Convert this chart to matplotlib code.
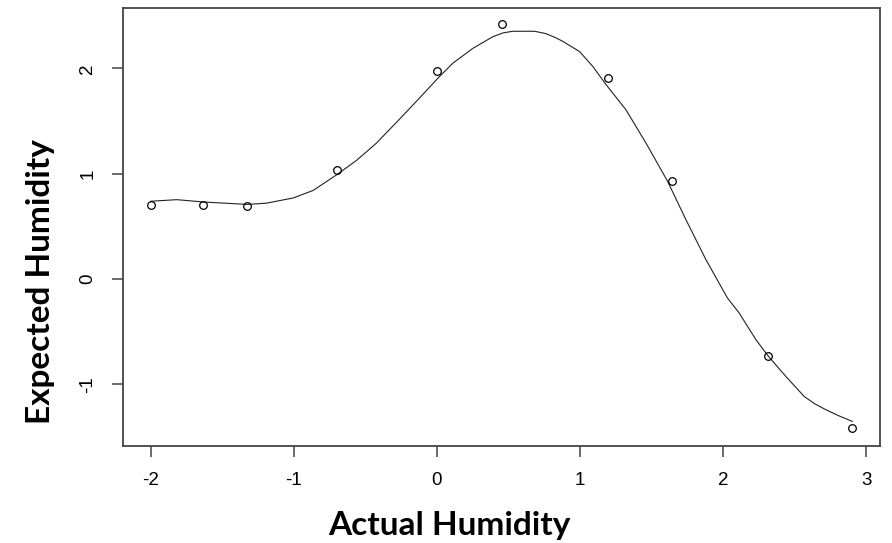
import matplotlib.pyplot as plt

# observed points
actual = [-2.0, -1.633, -1.326, -0.70, 0.003, 0.452, 1.196, 1.64, 2.317, 2.899]
expected = [0.706, 0.706, 0.69, 1.038, 1.978, 2.42, 1.909, 0.927, -0.735, -1.415]

# smooth fitted curve
fit_x = [-2.0, -1.818, -1.633, -1.326, -1.19, -1.005, -0.865, -0.70, -0.562, -0.423,
         -0.26, -0.121, 0.019, 0.112, 0.251, 0.39, 0.46, 0.53, 0.682, 0.76, 0.833,
         0.879, 0.996, 1.088, 1.182, 1.32, 1.461, 1.612, 1.74, 1.88, 2.03, 2.112, 2.229,
         2.317, 2.438, 2.566, 2.64, 2.717, 2.81, 2.903]
fit_y = [0.738, 0.753, 0.731, 0.708, 0.72, 0.769, 0.841, 0.99, 1.126, 1.29,
         1.52, 1.72, 1.924, 2.05, 2.19, 2.30, 2.336, 2.352, 2.352, 2.33, 2.289,
         2.256, 2.16, 2.02, 1.845, 1.608, 1.29, 0.927, 0.563, 0.183, -0.18, -0.323, -0.576,
         -0.735, -0.925, -1.115, -1.185, -1.241, -1.30, -1.352]

xticks = [-2, -1, 0, 1, 2, 3]
yticks = [-1, 0, 1, 2]

fig = plt.figure(figsize=(8.92, 5.43), dpi=100)
ax = fig.add_axes([0.1376, 0.1792, 0.8489, 0.8055])

ax.plot(fit_x, fit_y, color='#222222', lw=0.8)
ax.plot(actual, expected, 'o', mfc='none', mec='black', ms=5.5, mew=0.9)

ax.set_xlim(-2.196, 3.096)
ax.set_ylim(-1.583, 2.57)
ax.set_xticks(xticks)
ax.set_yticks(yticks)
ax.set_xticklabels([str(t) for t in xticks], family='Liberation Sans', fontsize=13.5)
ax.set_yticklabels([str(t) for t in yticks], family='Liberation Sans', fontsize=13.5,
                   rotation=90, va='center')
ax.tick_params(direction='out', length=8, width=1.1, color='#444444', pad=11)
for s in ax.spines.values():
    s.set_color('#444444')
    s.set_linewidth(1.3)

fig.text(449 / 892, 1 - 526 / 543, 'Actual Humidity', family='Lato', weight='bold',
         fontsize=24, ha='center', va='center')
fig.text(41 / 892, 1 - 282 / 543, 'Expected Humidity', family='Lato', weight='bold',
         fontsize=24, ha='center', va='center', rotation=90)

fig.savefig('out.png', dpi=100)
